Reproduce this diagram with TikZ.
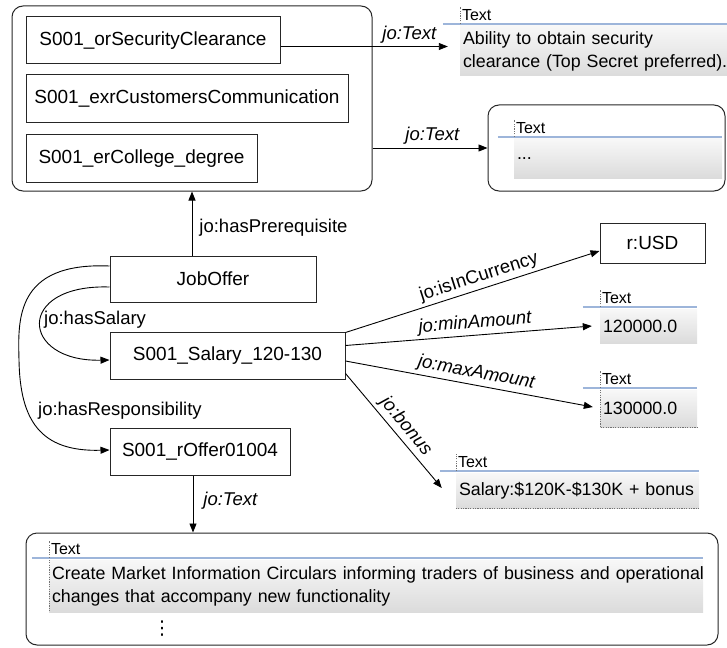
\documentclass[tikz,border=0pt]{standalone}
\usepackage{fontspec}
\setmainfont{Liberation Sans}
\newfontfamily\dejavu{DejaVu Sans}
\usetikzlibrary{arrows.meta,calc}
\newcommand\valblock[7]{%
  \node[valbody, text width=#4pt, minimum height=#5pt] (#1) at (#2,#3) {#7};
  \draw[blueline] ([xshift=-#6pt,yshift=2pt]#1.north west) -- ([yshift=2pt]#1.north east);
  \draw[tick] ([yshift=2pt]#1.north west) -- ++(0,-17);
  \node[hdr] (#1h) at ([xshift=1pt,yshift=4pt]#1.north west) {Text};
}
\begin{document}
\begin{tikzpicture}[x=1pt,y=-1pt,
  every node/.style={font=\fontsize{18.5}{23}\selectfont},
  ent/.style={draw=black!85, line width=1pt, inner sep=0pt, align=center, font=\fontsize{19}{23}\selectfont},
  grp/.style={draw=black!85, line width=1pt, rounded corners=11pt, inner sep=0pt},
  arr/.style={line width=0.9pt, -{Triangle[length=9pt,width=7pt]}},
  lbl/.style={inner sep=1pt},
  ilbl/.style={inner sep=1pt, font=\fontsize{18.5}{23}\selectfont\itshape},
  valbody/.style={top color=black!3, bottom color=black!14, draw=none, inner xsep=3pt, inner ysep=0pt, align=left, anchor=center, font=\fontsize{17.8}{23}\selectfont},
  hdr/.style={font=\fontsize{16}{18}\selectfont, inner sep=1pt, anchor=south west},
  blueline/.style={draw={rgb,255:red,157;green,181;blue,218}, line width=2pt},
  tick/.style={draw=black!55, line width=0.6pt, dash pattern=on 1.2pt off 1.2pt},
]
\useasboundingbox (0,0) rectangle (727,647);

% group boxes
\node[grp, minimum width=360pt, minimum height=185pt] (prq) at (192,98.5) {};
\node[grp, minimum width=237pt, minimum height=86pt] (rb2) at (606.5,148) {};
\node[grp, minimum width=692pt, minimum height=112pt] (rb3) at (372,589) {};

% entity boxes
\node[ent, minimum width=254pt, minimum height=47pt] (b1) at (153,40.5) {S001\_orSecurityClearance};
\node[ent, minimum width=322pt, minimum height=48pt] (b2) at (187,99) {S001\_exrCustomersCommunication};
\node[ent, minimum width=231pt, minimum height=47pt] (b3) at (141.5,158.5) {S001\_erCollege\_degree};
\node[ent, minimum width=206pt, minimum height=46pt] (job) at (213,279) {JobOffer};
\node[ent, minimum width=235pt, minimum height=47pt] (sal) at (227.5,355.5) {S001\_Salary\_120-130};
\node[ent, minimum width=180pt, minimum height=47pt] (resp) at (200,451.5) {S001\_rOffer01004};
\node[ent, minimum width=105pt, minimum height=40pt] (usd) at (652.5,243) {r:USD};

% value blocks
\valblock{t1}{593.5}{51}{261}{50}{17}{\mbox{Ability to obtain security}\\\mbox{clearance (Top Secret preferred).}}
\valblock{t2}{618}{158.5}{202}{39}{16}{...}
\valblock{tmin}{648.5}{326}{91}{34}{17}{\mbox{120000.0}}
\valblock{tmax}{648.5}{408.5}{91}{37}{17}{\mbox{130000.0}}
\valblock{tbonus}{577.5}{491}{237}{35}{16}{\mbox{Salary:\$120K-\$130K + bonus}}
\valblock{tresp}{376}{586}{648}{52}{17}{\fontsize{17.8}{18.5}\selectfont\mbox{Create Market Information Circulars informing traders of business and operational}\\\mbox{changes that accompany new functionality}}
\draw[tick] (tmax.north west) -- (tmax.south west) -- (tmax.south east);
\draw[tick] (tbonus.south west) -- (tbonus.south east);
\draw[tick] (tresp.north west) -- (tresp.south west);
\node[font=\fontsize{19}{20}\selectfont] (vdots) at (162,629) {\dejavu ⋮};

% connectors
\draw[arr] ([yshift=-6pt]b1.east) -- ([xshift=-12pt,yshift=4.5pt]t1.west)
  node[ilbl, pos=0.77, above=2pt] {jo:Text};
\draw[arr] (prq.east |- rb2.west) -- (rb2.west)
  node[ilbl, pos=0.52, above=2pt] {jo:Text};
\draw[arr] (job.north -| prq.south) -- (prq.south)
  node[lbl, pos=0.43, right=6pt] {jo:hasPrerequisite};
\draw[arr] ([yshift=-8pt]job.west) .. controls (15,284) and (20,362) .. ([yshift=-4.5pt]sal.west);
\node[lbl, anchor=west] (lsal) at (43,320) {jo:hasSalary};
\draw[arr] ([yshift=13pt]job.west) .. controls (15,262) and (18,320) .. (19,360)
  .. controls (20,420) and (40,452) .. ([yshift=1.5pt]resp.west);
\node[lbl, anchor=west] (lresp) at (37,411) {jo:hasResponsibility};
\draw[arr] ([xshift=-7pt]resp.south) -- ([xshift=-7pt]resp.south |- rb3.north)
  node[ilbl, pos=0.45, right=9pt] {jo:Text};
\draw[arr] ([yshift=-1pt]sal.north east) -- ([yshift=-8pt]usd.west)
  node[lbl, sloped, above=2pt, pos=0.54] {jo:isInCurrency};
\draw[arr] ([yshift=10pt]sal.east) -- ([xshift=-8pt]tmin.west)
  node[ilbl, sloped, above=2pt, pos=0.53] {jo:minAmount};
\draw[arr] ([yshift=-5.5pt]sal.east) -- ([xshift=-7pt,yshift=1.5pt]tmax.west)
  node[ilbl, sloped, above=2pt, pos=0.52] {jo:maxAmount};
\draw[arr] ([yshift=6pt]sal.south east) -- ([xshift=-14pt,yshift=3pt]tbonus.west)
  node[ilbl, sloped, above=2pt, pos=0.53] {jo:bonus};
\end{tikzpicture}
\end{document}
